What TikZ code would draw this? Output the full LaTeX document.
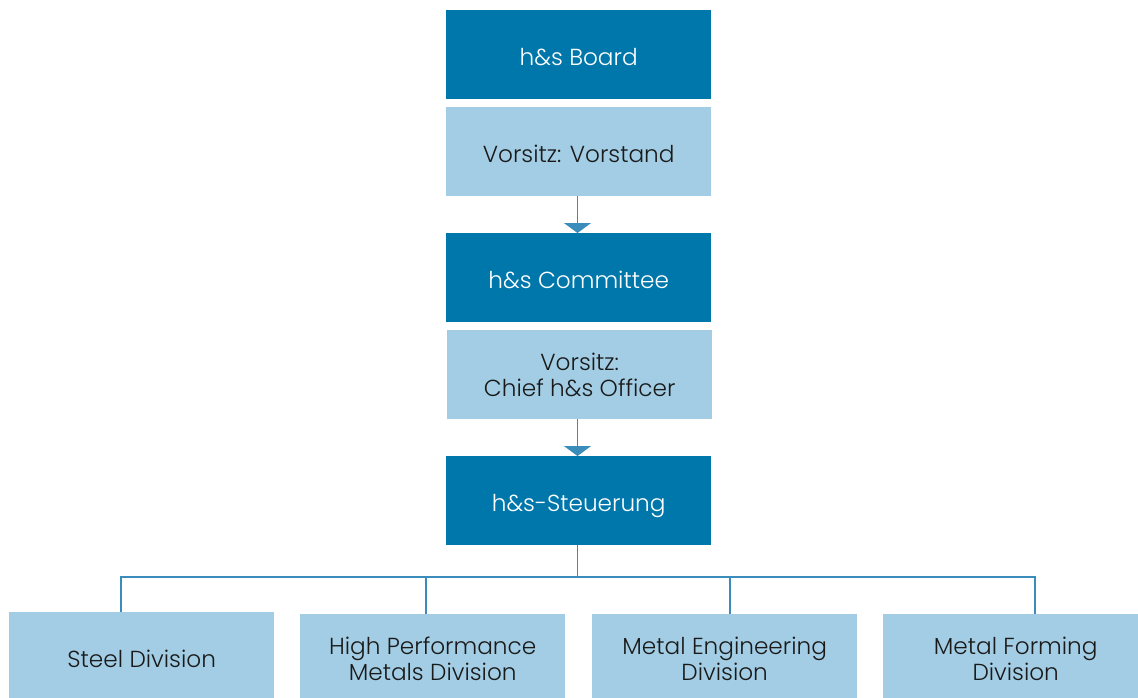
\documentclass[tikz,border=0pt]{standalone}
\usepackage{fontspec}
\setmainfont{Poppins Light}
\usetikzlibrary{arrows.meta}
\definecolor{dark}{HTML}{0077AA}
\definecolor{light}{HTML}{A2CDE4}
\definecolor{conn}{HTML}{3A8DBA}
\definecolor{txt}{HTML}{1A1A1A}
\tikzset{
  box/.style={minimum width=265pt, minimum height=89pt, inner sep=0pt, font=\fontsize{23.2}{26.5}\selectfont, anchor=north west},
  darkbox/.style={box, fill=dark, text=white},
  lightbox/.style={box, fill=light, text=txt},
  oneline/.style={text height=21.5pt, text depth=0pt},
  twoline/.style={align=center},
  conline/.style={draw=conn, line width=1.1pt},
  conarrow/.style={conline, -{Triangle[width=27pt,length=10pt]}},
}
\begin{document}
\begin{tikzpicture}[x=1pt,y=-1pt]
\useasboundingbox (0,0) rectangle (1138,697);
\node[darkbox, oneline] (board) at (446,10) {h\&s Board};
\node[lightbox, oneline] (vorstand) at (446,107) {Vorsitz: Vorstand};
\node[darkbox, oneline] (committee) at (446,233) {h\&s Committee};
\node[lightbox, twoline] (chief) at (447,330) {Vorsitz:\\Chief h\&s Officer};
\node[darkbox, oneline] (steuer) at (446,456) {h\&s-Steuerung};
\node[lightbox, oneline] (steel) at (9,612) {Steel Division};
\node[lightbox, twoline] (hpm) at (300,614) {High Performance\\Metals Division};
\node[lightbox, twoline] (me) at (592,614) {Metal Engineering\\Division};
\node[lightbox, twoline] (mf) at (883,614) {Metal Forming\\Division};
\coordinate (bus) at (577.5,577);
\draw[conarrow] (577.5,196) -- (committee.north -| 577.5,0);
\draw[conarrow] (577.5,419) -- (steuer.north -| 577.5,0);
\draw[conline] (steuer.south -| 577.5,0) -- (bus);
\draw[conline] (steel.north -| 121,0) |- (bus) -| (mf.north -| 1035,0);
\draw[conline] (hpm.north -| 426,0) -- (426,577);
\draw[conline] (me.north -| 730,0) -- (730,577);
\end{tikzpicture}
\end{document}
